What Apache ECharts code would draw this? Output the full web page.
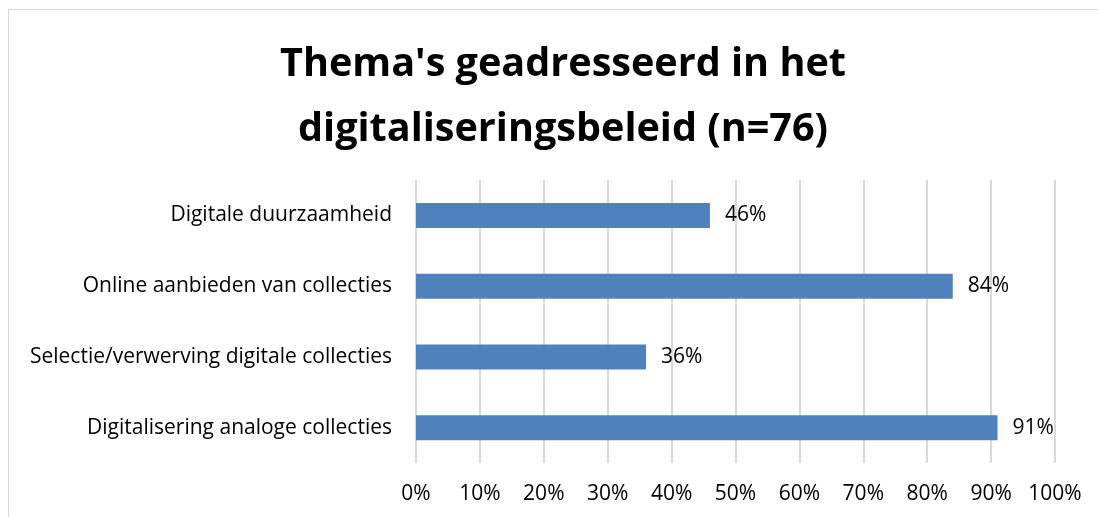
<!DOCTYPE html>
<html>
<head>
<meta charset="utf-8">
<script src="https://cdn.jsdelivr.net/npm/echarts@6/dist/echarts.min.js"></script>
<style>
    html, body { margin: 0; padding: 0; background: #fff; }
    #frame {
        position: absolute;
        left: 8px;
        top: 9px;
        width: 1100px;
        height: 520px;
        border: 1px solid #d9d9d9;
        box-sizing: border-box;
    }
    #chart { width: 1098px; height: 517px; position: absolute; left: 0; top: 0; }
</style>
</head>
<body>
<div id="frame"></div>
<div id="chart"></div>
<script>
// categories from top to bottom
const categories = [
    'Digitale duurzaamheid',
    'Online aanbieden van collecties',
    'Selectie/verwerving digitale collecties',
    'Digitalisering analoge collecties'
]
const values = [46, 84, 36, 91]
const tickValues = [0, 10, 20, 30, 40, 50, 60, 70, 80, 90, 100]

const myChart = echarts.init(document.getElementById('chart'))

const labelFont = 'Open Sans'
const labelSize = 21

const option = {
    animation: false,
    title: {
        text: "Thema's geadresseerd in het\ndigitaliseringsbeleid (n=76)",
        left: 558,
        textAlign: 'center',
        top: 27,
        textStyle: {
            fontFamily: 'Open Sans',
            fontWeight: 'bold',
            fontSize: 39.6,
            lineHeight: 65,
            color: '#000'
        }
    },
    grid: {
        left: 416,
        right: 43,
        top: 180,
        bottom: 54
    },
    xAxis: {
        type: 'value',
        min: 0,
        max: 100,
        interval: 10,
        axisLine: { show: false },
        axisTick: { show: false },
        splitLine: { lineStyle: { color: '#d9d9d9', width: 2 } },
        axisLabel: {
            margin: 21,
            fontFamily: labelFont,
            fontSize: labelSize,
            color: '#000',
            formatter: v => tickValues.includes(v) ? v + '%' : ''
        }
    },
    yAxis: {
        type: 'category',
        inverse: true,
        data: categories,
        axisLine: { show: false },
        axisTick: { show: false },
        axisLabel: {
            margin: 24,
            fontFamily: labelFont,
            fontSize: labelSize,
            color: '#000'
        }
    },
    series: [
        {
            type: 'bar',
            data: values,
            barWidth: 25,
            itemStyle: { color: '#4f81bd' },
            label: {
                show: true,
                position: 'right',
                distance: 15,
                fontFamily: labelFont,
                fontSize: labelSize,
                color: '#000',
                formatter: p => p.value + '%'
            }
        }
    ]
}
myChart.setOption(option)
</script>
</body>
</html>
